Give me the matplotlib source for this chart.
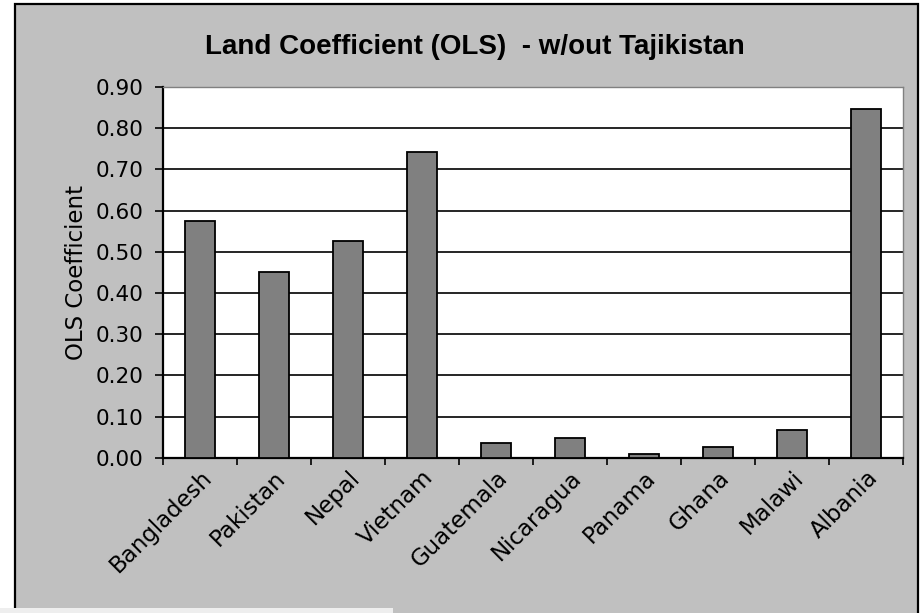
import matplotlib
matplotlib.use("Agg")
import matplotlib.pyplot as plt
from matplotlib.patches import Rectangle
import numpy as np

countries = ["Bangladesh", "Pakistan", "Nepal", "Vietnam", "Guatemala",
             "Nicaragua", "Panama", "Ghana", "Malawi", "Albania"]
coefficients = [0.574, 0.450, 0.527, 0.743, 0.037, 0.047, 0.009, 0.025, 0.067, 0.847]
y_ticks = [0.0, 0.1, 0.2, 0.3, 0.4, 0.5, 0.6, 0.7, 0.8, 0.9]
title = "Land Coefficient (OLS)  - w/out Tajikistan"
ylabel = "OLS Coefficient"

W, H = 924, 613
fig = plt.figure(figsize=(W / 100, H / 100), dpi=100)
fig.patch.set_facecolor("white")
tfont = ["Liberation Sans", "DejaVu Sans"]
font = ["DejaVu Sans"]

# chart area
fig.patches.append(Rectangle((15 / W, -0.05), (918 - 15) / W, 1.05 - 4 / H,
                             transform=fig.transFigure, facecolor="#C0C0C0",
                             edgecolor="black", linewidth=1.6, zorder=-10))
fig.patches.append(Rectangle((0, 0), 393 / W, 5 / H, transform=fig.transFigure,
                             facecolor="#EEEEEE", edgecolor="none", zorder=5))

left, right = 163 / W, 903 / W
bottom, top = 1 - 457.8 / H, 1 - 87 / H
ax = fig.add_axes([left, bottom, right - left, top - bottom])
ax.set_facecolor("white")

x = np.arange(len(countries))
ax.bar(x, coefficients, width=0.4, color="#808080", edgecolor="black",
       linewidth=1.3, zorder=3)

ax.set_xlim(-0.5, len(countries) - 0.5)
ax.set_ylim(0, 0.9)

for v in y_ticks[1:-1]:
    ax.axhline(v, color="black", linewidth=1.2, zorder=1)

ax.set_yticks(y_ticks)
ax.set_yticklabels([f"{v:.2f}" for v in y_ticks], fontsize=15.5, family=font)
ax.tick_params(axis="y", direction="out", length=6, width=1.2, pad=8)

ax.set_xticks(np.arange(len(countries) + 1) - 0.5)
ax.set_xticklabels([])
ax.tick_params(axis="x", which="major", direction="out", length=5, width=1.2)
ax.set_xticks(x, minor=True)
ax.set_xticklabels(countries, minor=True, rotation=45, ha="right",
                   rotation_mode="anchor", fontsize=16.5, family=font)
ax.tick_params(axis="x", which="minor", length=0, pad=6)

for s in ["left", "bottom"]:
    ax.spines[s].set_color("black")
    ax.spines[s].set_linewidth(1.6)
for s in ["top", "right"]:
    ax.spines[s].set_color("#808080")
    ax.spines[s].set_linewidth(1.0)

ax.set_ylabel(ylabel, fontsize=16.5, family=font)
ax.yaxis.set_label_coords(-0.102, 0.5)

fig.text(475 / W, 1 - 47 / H, title, ha="center", va="center",
         fontsize=20, fontweight="bold", family=tfont)

fig.savefig("out.png", dpi=100)
